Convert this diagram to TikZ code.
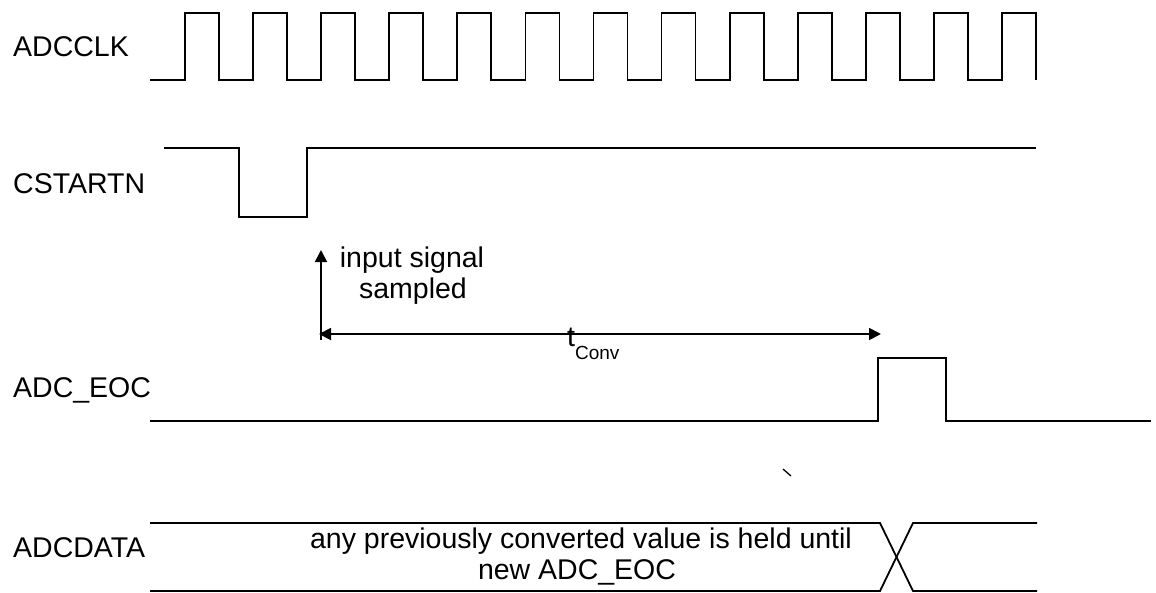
\documentclass[tikz,border=0pt]{standalone}
\usepackage{fontspec}
\setmainfont{Liberation Sans}
\usetikzlibrary{arrows.meta}
\tikzset{
  sig/.style={line width=1.8pt, line join=miter},
  lab/.style={font=\fontsize{28.5}{34}\selectfont, inner sep=0pt, anchor=base west},
  txt/.style={font=\fontsize{28.5}{34}\selectfont, inner sep=0pt, anchor=base},
  arr/.style={line width=1.8pt, -{Triangle[length=12pt,width=12pt]}},
  darr/.style={line width=1.8pt, {Triangle[length=12pt,width=12pt]}-{Triangle[length=12pt,width=12pt]}}
}
\begin{document}
\begin{tikzpicture}[x=1pt,y=-1pt]
\useasboundingbox (0,0) rectangle (1156,592);
% labels
\node[lab] (lclk) at (13,56) {ADCCLK};
\node[lab] (lcs) at (13,193) {CSTARTN};
\node[lab] (leoc) at (13,397) {ADC\_EOC};
\node[lab] (ldata) at (13,557) {ADCDATA};
% ADCCLK
\draw[sig] (150,80) \foreach \k in {0,...,12}{
  -- ({185+68.08*\k},80) -- ({185+68.08*\k},13) -- ({219+68.08*\k},13) -- ({219+68.08*\k},80)};
% CSTARTN
\draw[sig] (164,148) -- (239,148) -- (239,217) -- (307,217) -- (307,148) -- (1036,148);
% ADC_EOC
\draw[sig] (150,421) -- (878,421) -- (878,358) -- (946,358) -- (946,421) -- (1151,421);
% ADCDATA
\draw[sig] (150,523) -- (880,523) -- (913,591) -- (1037,591);
\draw[sig] (150,591) -- (880,591) -- (913,523) -- (1037,523);
% arrows
\coordinate (vbot) at (321,340);
\coordinate (vtop) at (321,250);
\coordinate (hl) at (319,334);
\coordinate (hr) at (881,334);
\draw[arr] (vbot) -- (vtop);
\draw[darr] (hl) -- (hr);
\node[txt] (t1) at (412,267) {input signal};
\node[txt] (t2) at (413,298) {sampled};
\node[lab] (tconv) at (567,346) {t\raisebox{-13pt}{\fontsize{19}{22}\selectfont Conv}};
% data text
\node[txt] (d1) at (581,548) {any previously converted value is held until};
\node[txt] (d2) at (577,579) {new ADC\_EOC};
% small tick
\coordinate (k1) at (783,469);
\coordinate (k2) at (791,476);
\draw[line width=1.3pt] (k1) -- (k2);
\end{tikzpicture}
\end{document}
